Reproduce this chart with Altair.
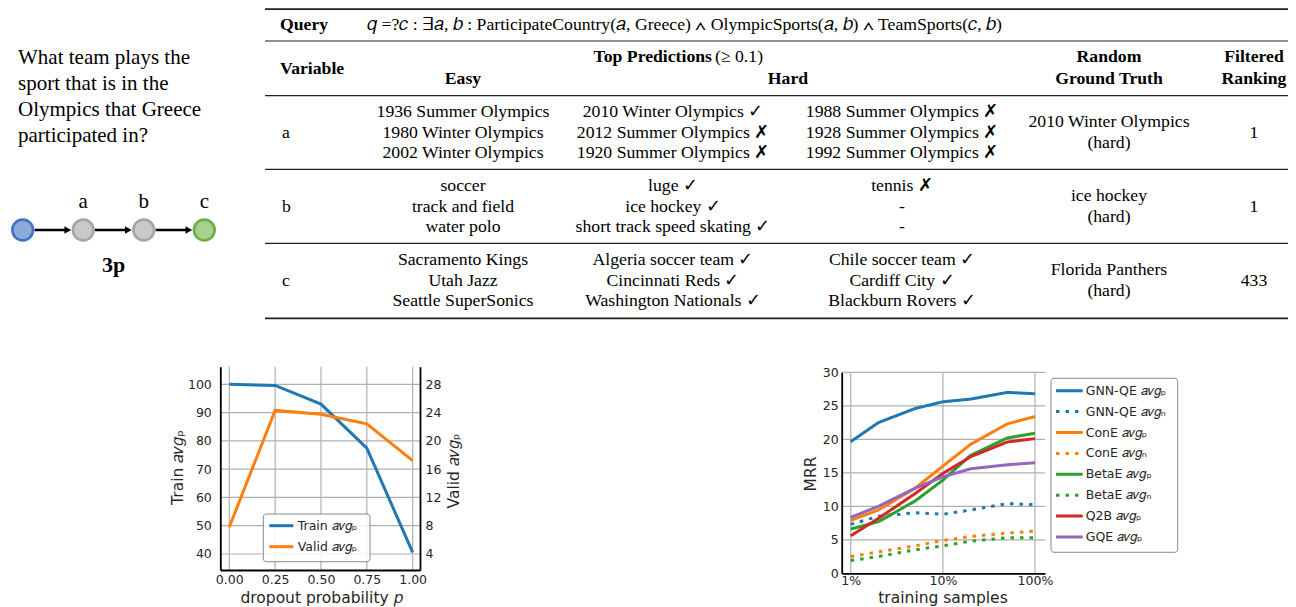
import altair as alt
import pandas as pd

W, H = 1280, 599
SERIF = "Liberation Serif"
SANS = "DejaVu Sans"

# ------------------------------------------------------------------ data
question_lines = ["What team plays the", "sport that is in the",
                  "Olympics that Greece", "participated in?"]
graph_node_labels = ["", "a", "b", "c"]
graph_node_roles = ["anchor", "variable", "variable", "target"]
graph_structure = "3p"

query_title = "Query"
query_formula = ("𝑞 =?𝑐 : ∃𝑎, 𝑏 : ParticipateCountry(𝑎, Greece) ∧ "
                 "OlympicSports(𝑎, 𝑏) ∧ TeamSports(𝑐, 𝑏)")
header_variable = "Variable"
header_top = "Top Predictions"
header_threshold = "(≥ 0.1)"
header_easy = "Easy"
header_hard = "Hard"
header_truth = ["Random", "Ground Truth"]
header_rank = ["Filtered", "Ranking"]
variables = ["a", "b", "c"]
easy_answers = [
    ["1936 Summer Olympics", "1980 Winter Olympics", "2002 Winter Olympics"],
    ["soccer", "track and field", "water polo"],
    ["Sacramento Kings", "Utah Jazz", "Seattle SuperSonics"],
]
hard_answers_1 = [
    ["2010 Winter Olympics ✓", "2012 Summer Olympics ✗", "1920 Summer Olympics ✗"],
    ["luge ✓", "ice hockey ✓", "short track speed skating ✓"],
    ["Algeria soccer team ✓", "Cincinnati Reds ✓", "Washington Nationals ✓"],
]
hard_answers_2 = [
    ["1988 Summer Olympics ✗", "1928 Summer Olympics ✗", "1992 Summer Olympics ✗"],
    ["tennis ✗", "-", "-"],
    ["Chile soccer team ✓", "Cardiff City ✓", "Blackburn Rovers ✓"],
]
ground_truth = [["2010 Winter Olympics", "(hard)"],
                ["ice hockey", "(hard)"],
                ["Florida Panthers", "(hard)"]]
filtered_ranking = ["1", "1", "433"]

# chart 1: dropout
dropout_p = [0.0, 0.25, 0.5, 0.75, 1.0]
train_avg_p = [100.0, 99.6, 93.0, 77.4, 40.6]
valid_avg_p = [7.8, 24.3, 23.75, 22.4, 17.2]
dropout_ticks = [0.0, 0.25, 0.5, 0.75, 1.0]
train_ticks = [40, 50, 60, 70, 80, 90, 100]
valid_ticks = [4, 8, 12, 16, 20, 24, 28]
dropout_series = ["Train 𝑎𝑣𝑔ₚ", "Valid 𝑎𝑣𝑔ₚ"]
dropout_xtitle = "dropout probability 𝑝"
dropout_ytitle_left = "Train 𝑎𝑣𝑔ₚ"
dropout_ytitle_right = "Valid 𝑎𝑣𝑔ₚ"

# chart 2: training samples
training_samples = [1, 2, 5, 10, 20, 50, 100]
series_names = ["GNN-QE 𝑎𝑣𝑔ₚ", "GNN-QE 𝑎𝑣𝑔ₙ", "ConE 𝑎𝑣𝑔ₚ", "ConE 𝑎𝑣𝑔ₙ",
                "BetaE 𝑎𝑣𝑔ₚ", "BetaE 𝑎𝑣𝑔ₙ", "Q2B 𝑎𝑣𝑔ₚ", "GQE 𝑎𝑣𝑔ₚ"]
gnnqe_p = [19.65, 22.5, 24.6, 25.6, 26.0, 27.0, 26.8]
gnnqe_n = [7.3, 8.5, 9.05, 8.8, 9.45, 10.4, 10.25]
cone_p = [7.9, 9.45, 12.7, 16.0, 19.25, 22.3, 23.4]
cone_n = [2.5, 3.2, 4.1, 4.9, 5.5, 6.0, 6.3]
betae_p = [6.6, 7.7, 10.8, 13.9, 17.6, 20.2, 20.9]
betae_n = [1.9, 2.5, 3.5, 4.1, 4.8, 5.3, 5.3]
q2b_p = [5.6, 8.2, 11.9, 14.9, 17.4, 19.6, 20.1]
gqe_p = [8.35, 10.0, 12.7, 14.4, 15.6, 16.2, 16.5]
mrr_ticks = [0, 5, 10, 15, 20, 25, 30]
sample_ticks = [1, 10, 100]
samples_xtitle = "training samples"
samples_ytitle = "MRR"

# ------------------------------------------------------------------ styles / layout
BLUE, ORANGE, GREEN, RED, PURPLE = "#1f77b4", "#ff7f0e", "#2ca02c", "#d62728", "#9467bd"
SOLID, DOT = [1, 0], [3.5, 6]
series_colors = [BLUE, BLUE, ORANGE, ORANGE, GREEN, GREEN, RED, PURPLE]
series_dashes = [SOLID, DOT, SOLID, DOT, SOLID, DOT, SOLID, SOLID]
GRID = "#b0b0b0"

ID_X = alt.Scale(domain=[0, W], range=[0, W], nice=False, zero=False)
ID_Y = alt.Scale(domain=[0, H], range=[0, H], nice=False, zero=False)


def text_layer(df, size, weight="normal", align="left", font=SERIF,
               baseline="alphabetic", angle=0, color="black"):
    return alt.Chart(df).mark_text(
        font=font, fontSize=size, fontWeight=weight, align=align,
        baseline=baseline, angle=angle, color=color
    ).encode(
        x=alt.X("x:Q", scale=ID_X, axis=None),
        y=alt.Y("y:Q", scale=ID_Y, axis=None),
        text="t:N",
    )


layers = []

# ------------------------------------------------------------------ left panel
Q_X, Q_Y0, Q_DY = 10, 55.5, 26.1
layers.append(text_layer(pd.DataFrame({
    "t": question_lines,
    "x": [Q_X] * len(question_lines),
    "y": [Q_Y0 + i * Q_DY for i in range(len(question_lines))],
}), 21))

GX = alt.Scale(domain=[0, 3], range=[14.7, 196.3], nice=False, zero=False)
NODE_Y, LABEL_Y, STRUCT_Y = 222, 199.5, 263.7
nodes = pd.DataFrame({"i": list(range(4)), "role": graph_node_roles,
                      "label": graph_node_labels})
arrows = pd.DataFrame({"a": [i + 0.195 for i in range(3)],
                       "b": [i + 0.745 for i in range(3)],
                       "tip": [i + 0.745 for i in range(3)]})
layers.append(alt.Chart(arrows).mark_rule(color="black", strokeWidth=2.4).encode(
    x=alt.X("a:Q", scale=GX, axis=None), x2="b:Q", y=alt.value(NODE_Y)))
layers.append(alt.Chart(arrows).mark_point(
    shape="triangle-right", filled=True, color="black", size=60, opacity=1).encode(
    x=alt.X("tip:Q", scale=GX, axis=None), y=alt.value(NODE_Y)))
layers.append(alt.Chart(nodes).mark_point(
    shape="circle", size=430, strokeWidth=2.6, opacity=1, fillOpacity=1).encode(
    x=alt.X("i:Q", scale=GX, axis=None), y=alt.value(NODE_Y),
    fill=alt.Fill("role:N", legend=None, scale=alt.Scale(
        domain=["anchor", "variable", "target"],
        range=["#8eaadb", "#c9c9c9", "#a9d18e"])),
    stroke=alt.Stroke("role:N", legend=None, scale=alt.Scale(
        domain=["anchor", "variable", "target"],
        range=["#4472c4", "#a5a5a5", "#70ad47"]))))
layers.append(alt.Chart(nodes).mark_text(
    font=SERIF, fontSize=21, baseline="alphabetic", align="center").encode(
    x=alt.X("i:Q", scale=GX, axis=None), y=alt.value(LABEL_Y), text="label:N"))
layers.append(alt.Chart(pd.DataFrame({"i": [1.5], "label": [graph_structure]})).mark_text(
    font=SERIF, fontSize=22, fontWeight="bold", baseline="alphabetic", align="center").encode(
    x=alt.X("i:Q", scale=GX, axis=None), y=alt.value(STRUCT_Y), text="label:N"))

# ------------------------------------------------------------------ table
FS = 17.7
T_LEFT, T_RIGHT = 257, W
COL = {"var": 272, "easy": 455, "hard1": 665, "hard2": 894, "truth": 1101, "rank": 1246}
ROW_TOP = [109.2, 183.0, 256.9]
LINE_H = 20.6
rule_y = [1.2, 33.0, 87.7, 161.3, 235.3, 310.3]
rule_w = [1.8, 1.2, 1.2, 1.2, 1.2, 1.8]
layers.append(alt.Chart(pd.DataFrame({
    "y": rule_y, "w": rule_w, "x0": [T_LEFT] * 6, "x1": [T_RIGHT] * 6,
})).mark_rule(color="#222222").encode(
    x=alt.X("x0:Q", scale=ID_X, axis=None), x2="x1:Q",
    y=alt.Y("y:Q", scale=ID_Y, axis=None),
    strokeWidth=alt.StrokeWidth("w:Q", scale=None)))

HEAD1, HEAD2, QUERY_Y = 54.2, 76.3, 22.0
layers.append(text_layer(pd.DataFrame({
    "t": [query_title, header_variable],
    "x": [COL["var"], COL["var"]], "y": [QUERY_Y, 65.5]}), FS, weight="bold"))
layers.append(text_layer(pd.DataFrame({
    "t": [header_top], "x": [704], "y": [HEAD1]}), FS, weight="bold", align="right"))
layers.append(text_layer(pd.DataFrame({
    "t": [header_threshold, query_formula], "x": [707, 359], "y": [HEAD1, QUERY_Y]}), FS))
layers.append(text_layer(pd.DataFrame({
    "t": [header_easy, header_hard, header_truth[0], header_truth[1],
          header_rank[0], header_rank[1]],
    "x": [COL["easy"], 780, COL["truth"], COL["truth"], COL["rank"], COL["rank"]],
    "y": [HEAD2, HEAD2, HEAD1, HEAD2, HEAD1, HEAD2]}), FS, weight="bold", align="center"))

cells = []
for r in range(3):
    base = ROW_TOP[r]
    for j in range(3):
        y = base + j * LINE_H
        cells.append((easy_answers[r][j], COL["easy"], y))
        cells.append((hard_answers_1[r][j], COL["hard1"], y))
        cells.append((hard_answers_2[r][j], COL["hard2"], y))
    mid = base + LINE_H
    cells.append((ground_truth[r][0], COL["truth"], mid - 10.4))
    cells.append((ground_truth[r][1], COL["truth"], mid + 10.4))
    cells.append((filtered_ranking[r], COL["rank"], mid))
layers.append(text_layer(pd.DataFrame(cells, columns=["t", "x", "y"]), FS, align="center"))
layers.append(text_layer(pd.DataFrame({
    "t": variables, "x": [COL["var"] + 2] * 3,
    "y": [b + LINE_H for b in ROW_TOP]}), FS))

# ------------------------------------------------------------------ chart 1
X1D = [-0.049, 1.04]
Y1D = [34.34, 106.22]
Y1RD = [1.736, 30.488]
X1R = [212.3, 412.0]
Y1R_PX = [562.0, 358.7]
X1 = alt.Scale(domain=X1D, range=X1R, nice=False, zero=False)
Y1L = alt.Scale(domain=Y1D, range=Y1R_PX, nice=False, zero=False)
Y1R = alt.Scale(domain=Y1RD, range=Y1R_PX, nice=False, zero=False)

AX = dict(grid=False, ticks=False, labelFont=SANS, labelFontSize=12.5,
          labelColor="#262626", domainColor="black", domainWidth=1.8,
          title=None, labelFlush=False, labelOverlap=False, zindex=1)

layers.append(alt.Chart(pd.DataFrame({
    "x": dropout_ticks, "y0": [Y1D[0]] * 5, "y1": [Y1D[1]] * 5
})).mark_rule(color=GRID, strokeWidth=1.2).encode(
    x=alt.X("x:Q", scale=X1, axis=None),
    y=alt.Y("y0:Q", scale=Y1L, axis=None), y2="y1:Q"))
layers.append(alt.Chart(pd.DataFrame({
    "y": train_ticks, "x0": [X1D[0]] * 7, "x1": [X1D[1]] * 7
})).mark_rule(color=GRID, strokeWidth=1.2).encode(
    x=alt.X("x0:Q", scale=X1, axis=None), x2="x1:Q",
    y=alt.Y("y:Q", scale=Y1L, axis=None)))

d1 = pd.DataFrame({"p": dropout_p, "train": train_avg_p, "valid": valid_avg_p})
layers.append(alt.Chart(d1).mark_line(color=BLUE, strokeWidth=3).encode(
    x=alt.X("p:Q", scale=X1, axis=alt.Axis(
        orient="bottom", offset=Y1R_PX[0] - H, values=dropout_ticks,
        format=".2f", labelPadding=3, **AX)),
    y=alt.Y("train:Q", scale=Y1L, axis=alt.Axis(
        orient="left", offset=-X1R[0], values=train_ticks, labelPadding=9, **AX))))
layers.append(alt.Chart(d1).mark_line(color=ORANGE, strokeWidth=3).encode(
    x=alt.X("p:Q", scale=X1, axis=None),
    y=alt.Y("valid:Q", scale=Y1R, axis=alt.Axis(
        orient="right", offset=X1R[1] - W, values=valid_ticks, labelPadding=5, **AX))))

# legend 1
layers.append(alt.Chart(pd.DataFrame({"x0": [255.3], "x1": [362.0], "y0": [506.0], "y1": [553.7]}))
              .mark_rect(fill="white", fillOpacity=0.85, stroke="#8a8a8a", strokeWidth=1,
                         cornerRadius=3).encode(
    x=alt.X("x0:Q", scale=ID_X, axis=None), x2="x1:Q",
    y=alt.Y("y0:Q", scale=ID_Y, axis=None), y2="y1:Q"))
leg1 = pd.DataFrame({"s": dropout_series, "y": [517.7, 538.7],
                     "x0": [261.3, 261.3], "x1": [285.3, 285.3], "x": [289.7, 289.7]})
layers.append(alt.Chart(leg1).mark_rule(strokeWidth=3).encode(
    x=alt.X("x0:Q", scale=ID_X, axis=None), x2="x1:Q",
    y=alt.Y("y:Q", scale=ID_Y, axis=None),
    color=alt.Color("s:N", legend=None, scale=alt.Scale(domain=dropout_series,
                                                       range=[BLUE, ORANGE]))))
layers.append(alt.Chart(leg1).mark_text(font=SANS, fontSize=12.5, align="left",
                                        baseline="middle", color="#262626").encode(
    x=alt.X("x:Q", scale=ID_X, axis=None), y=alt.Y("y:Q", scale=ID_Y, axis=None),
    text="s:N"))

# ------------------------------------------------------------------ chart 2
X2D = [0.798, 128.4]
X2R = [833.7, 1037.0]
Y2D = [0, 30]
Y2R = [565.3, 364.3]
X2 = alt.Scale(type="log", domain=X2D, range=X2R, nice=False)
Y2 = alt.Scale(domain=Y2D, range=Y2R, nice=False, zero=False)

layers.append(alt.Chart(pd.DataFrame({
    "x": sample_ticks, "y0": [Y2D[0]] * 3, "y1": [Y2D[1]] * 3
})).mark_rule(color=GRID, strokeWidth=1.2).encode(
    x=alt.X("x:Q", scale=X2, axis=None),
    y=alt.Y("y0:Q", scale=Y2, axis=None), y2="y1:Q"))
layers.append(alt.Chart(pd.DataFrame({
    "y": mrr_ticks[1:], "x0": [X2D[0]] * 6, "x1": [X2D[1]] * 6
})).mark_rule(color=GRID, strokeWidth=1.2).encode(
    x=alt.X("x0:Q", scale=X2, axis=None), x2="x1:Q",
    y=alt.Y("y:Q", scale=Y2, axis=None)))

all_series = [gnnqe_p, gnnqe_n, cone_p, cone_n, betae_p, betae_n, q2b_p, gqe_p]
rows = []
for k, (name, vals) in enumerate(zip(series_names, all_series)):
    for s, v in zip(training_samples, vals):
        rows.append({"series": name, "k": k, "samples": s, "mrr": v})
d2 = pd.DataFrame(rows)
COLOR2 = alt.Scale(domain=series_names, range=series_colors)
DASH2 = alt.Scale(domain=series_names, range=series_dashes)
layers.append(alt.Chart(d2).mark_line(strokeWidth=3).encode(
    x=alt.X("samples:Q", scale=X2, axis=alt.Axis(
        orient="bottom", offset=Y2R[0] - H, values=sample_ticks,
        labelExpr="datum.value + '%'", labelPadding=1, **AX)),
    y=alt.Y("mrr:Q", scale=Y2, axis=alt.Axis(
        orient="left", offset=-X2R[0], values=mrr_ticks, labelPadding=3.5, **AX)),
    color=alt.Color("series:N", scale=COLOR2, legend=None),
    strokeDash=alt.StrokeDash("series:N", scale=DASH2, legend=None),
    detail="series:N"))

# legend 2
layers.append(alt.Chart(pd.DataFrame({"x0": [1043.0], "x1": [1169.7], "y0": [370.3], "y1": [544.3]}))
              .mark_rect(fill="white", fillOpacity=0.85, stroke="#8a8a8a", strokeWidth=1,
                         cornerRadius=3).encode(
    x=alt.X("x0:Q", scale=ID_X, axis=None), x2="x1:Q",
    y=alt.Y("y0:Q", scale=ID_Y, axis=None), y2="y1:Q"))
L2_Y0, L2_DY = 382.7, 20.9
leg2 = pd.DataFrame({"s": series_names,
                     "y": [L2_Y0 + i * L2_DY for i in range(8)],
                     "x0": [1048.0] * 8, "x1": [1074.7] * 8, "x": [1077.7] * 8})
layers.append(alt.Chart(leg2).mark_rule(strokeWidth=3).encode(
    x=alt.X("x0:Q", scale=ID_X, axis=None), x2="x1:Q",
    y=alt.Y("y:Q", scale=ID_Y, axis=None),
    color=alt.Color("s:N", scale=COLOR2, legend=None),
    strokeDash=alt.StrokeDash("s:N", scale=DASH2, legend=None)))
layers.append(alt.Chart(leg2).mark_text(font=SANS, fontSize=12.5, align="left",
                                        baseline="middle", color="#262626").encode(
    x=alt.X("x:Q", scale=ID_X, axis=None), y=alt.Y("y:Q", scale=ID_Y, axis=None),
    text="s:N"))

# ------------------------------------------------------------------ axis titles
layers.append(text_layer(pd.DataFrame({
    "t": [dropout_xtitle, samples_xtitle], "x": [313.5, 935.0], "y": [594.7, 595.0]}),
    15.5, font=SANS, align="center", color="#262626"))
layers.append(text_layer(pd.DataFrame({
    "t": [dropout_ytitle_left, dropout_ytitle_right, samples_ytitle],
    "x": [169.5, 446.0, 803.0], "y": [459.5, 463.0, 466.0]}),
    15.5, font=SANS, align="center", baseline="middle", angle=270, color="#262626"))

chart = alt.layer(*layers).resolve_scale(
    x="independent", y="independent", color="independent",
    strokeDash="independent", fill="independent", stroke="independent",
    strokeWidth="independent",
).properties(
    width=W, height=H, padding=0, autosize=alt.AutoSizeParams(type="none"),
).configure_view(stroke=None)

chart.save("out.html", embed_options={"renderer": "svg", "actions": False})
